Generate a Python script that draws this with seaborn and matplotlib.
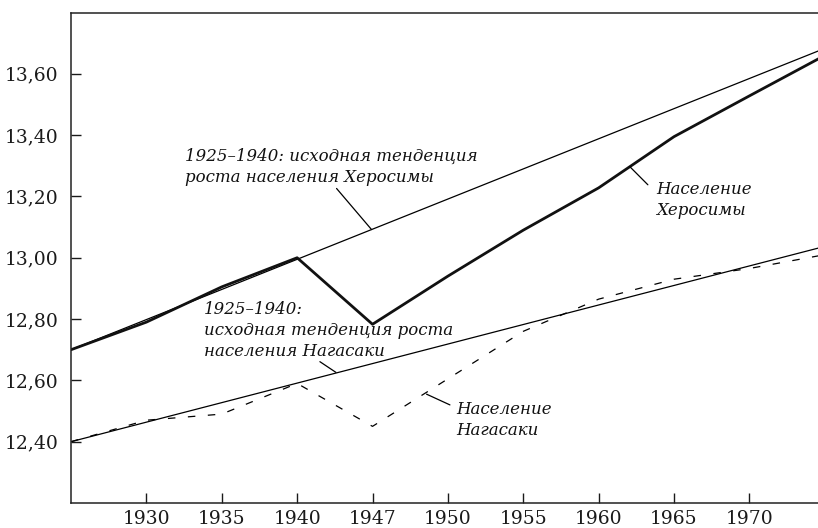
import matplotlib
matplotlib.use("Agg")
import matplotlib.pyplot as plt
import seaborn as sns
import pandas as pd

# Period labels (1947 stands in the 1945 slot on the original axis)
periods = ["1925", "1930", "1935", "1940", "1947", "1950",
           "1955", "1960", "1965", "1970", "1975"]

# Natural log of population
hiroshima = [12.70, 12.79, 12.905, 13.00, 12.783, 12.94,
             13.09, 13.228, 13.395, 13.528, 13.66]
nagasaki = [12.40, 12.47, 12.49, 12.59, 12.45, 12.605,
            12.76, 12.865, 12.93, 12.965, 13.01]

# 1925-1940 baseline trends (end points)
trend_periods = ["1925", "1975"]
hiroshima_trend = [12.70, 13.683]
nagasaki_trend = [12.40, 13.037]

yticks = [12.40, 12.60, 12.80, 13.00, 13.20, 13.40, 13.60]

pos = {p: i for i, p in enumerate(periods)}
df = pd.DataFrame({"x": [pos[p] for p in periods],
                   "hiroshima": hiroshima, "nagasaki": nagasaki})
trend = pd.DataFrame({"x": [pos[p] for p in trend_periods],
                      "hiroshima": hiroshima_trend, "nagasaki": nagasaki_trend})

sns.set_theme(style="ticks")
plt.rcParams["font.family"] = ["DejaVu Serif"]

fig = plt.figure(figsize=(8.18, 5.28), dpi=100)
ax = fig.add_axes([71 / 818, 25 / 528, 1 - 71 / 818, 490.5 / 528])

sns.lineplot(data=trend, x="x", y="hiroshima", ax=ax, color="black", lw=0.9)
sns.lineplot(data=trend, x="x", y="nagasaki", ax=ax, color="black", lw=0.9)
sns.lineplot(data=df, x="x", y="hiroshima", ax=ax, color="#111111", lw=2.0)
sns.lineplot(data=df, x="x", y="nagasaki", ax=ax, color="black", lw=0.9,
             linestyle=(0, (6, 10)))

ax.set_xlim(0, 9.91)
ax.set_ylim(12.2, 13.8)
ax.set_xticks(range(1, 10))
ax.set_xticklabels(periods[1:10])
ax.set_yticks(yticks)
ax.set_yticklabels([f"{v:.2f}".replace(".", ",") for v in yticks])
ax.tick_params(direction="in", length=7, width=1, labelsize=13.5,
               colors="#1a1a1a")
ax.tick_params(axis="y", pad=9)
ax.tick_params(axis="x", pad=5)
ax.set_xlabel("")
ax.set_ylabel("")
for side in ["left", "bottom", "top"]:
    ax.spines[side].set_linewidth(1.1)
    ax.spines[side].set_color("#222222")
ax.spines["right"].set_visible(False)

# baseline of multi-line text refers to the last line
tkw = dict(fontsize=12, style="italic", va="baseline", ha="left",
           linespacing=1.32, color="#111111")
ax.text(1.512, 13.2486, "1925–1940: исходная тенденция\nроста населения Херосимы", **tkw)
ax.text(7.759, 13.140, "Население\nХеросимы", **tkw)
ax.text(1.764, 12.679, "1925–1940:\nисходная тенденция роста\nнаселения Нагасаки", **tkw)
ax.text(5.115, 12.422, "Население\nНагасаки", **tkw)

lkw = dict(arrowprops=dict(arrowstyle="-", lw=0.9, color="black",
                           shrinkA=0, shrinkB=0))
ax.annotate("", xy=(3.987, 13.092), xytext=(3.523, 13.226), **lkw)
ax.annotate("", xy=(7.653, 13.238), xytext=(7.414, 13.297), **lkw)
ax.annotate("", xy=(3.515, 12.626), xytext=(3.302, 12.661), **lkw)
ax.annotate("", xy=(5.027, 12.520), xytext=(4.717, 12.555), **lkw)

fig.savefig("out.png", dpi=100)
